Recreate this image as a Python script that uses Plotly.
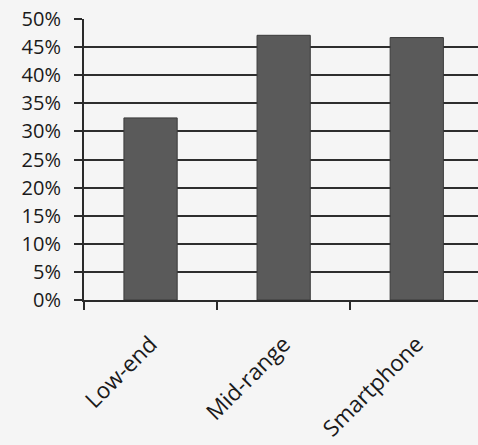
import plotly.graph_objects as go

categories = ["Low-end", "Mid-range", "Smartphone"]
values = [32.4, 47.1, 46.7]
y_ticks = [0, 5, 10, 15, 20, 25, 30, 35, 40, 45, 50]
y_tick_labels = [f"{v}%" for v in y_ticks]

fig = go.Figure(
    go.Bar(
        x=categories,
        y=values,
        width=0.4,
        marker=dict(color="#5a5a5a", line=dict(color="#3a3a3a", width=1)),
    )
)

fig.update_layout(
    width=478,
    height=445,
    margin=dict(l=84, r=0, t=19, b=145),
    paper_bgcolor="#f5f5f5",
    plot_bgcolor="#f5f5f5",
    showlegend=False,
    font=dict(family="'Open Sans', Lato, sans-serif", size=20, color="#1a1a1a"),
)

fig.update_yaxes(
    range=[0, 50],
    tickvals=y_ticks,
    ticktext=y_tick_labels,
    showgrid=True,
    gridcolor="#2e2e2e",
    gridwidth=2,
    showline=True,
    linecolor="#2a2a2a",
    linewidth=2,
    ticks="outside",
    ticklen=8,
    tickcolor="#2a2a2a",
    tickwidth=2,
    zeroline=False,
    tickfont=dict(size=20),
    ticklabelstandoff=9,
    automargin=False,
)

fig.update_xaxes(
    range=[-0.5, 2.46],
    showgrid=False,
    showline=True,
    linecolor="#2a2a2a",
    linewidth=2,
    ticks="outside",
    tickson="boundaries",
    ticklen=8,
    tickcolor="#2a2a2a",
    tickwidth=2,
    tickangle=-45,
    tickfont=dict(size=22.5),
    ticklabelstandoff=20,
    automargin=False,
)

fig.write_html(
    "out.html",
    config={"displayModeBar": False},
    post_script="document.body.style.margin='0';document.body.style.overflow='hidden';",
)
